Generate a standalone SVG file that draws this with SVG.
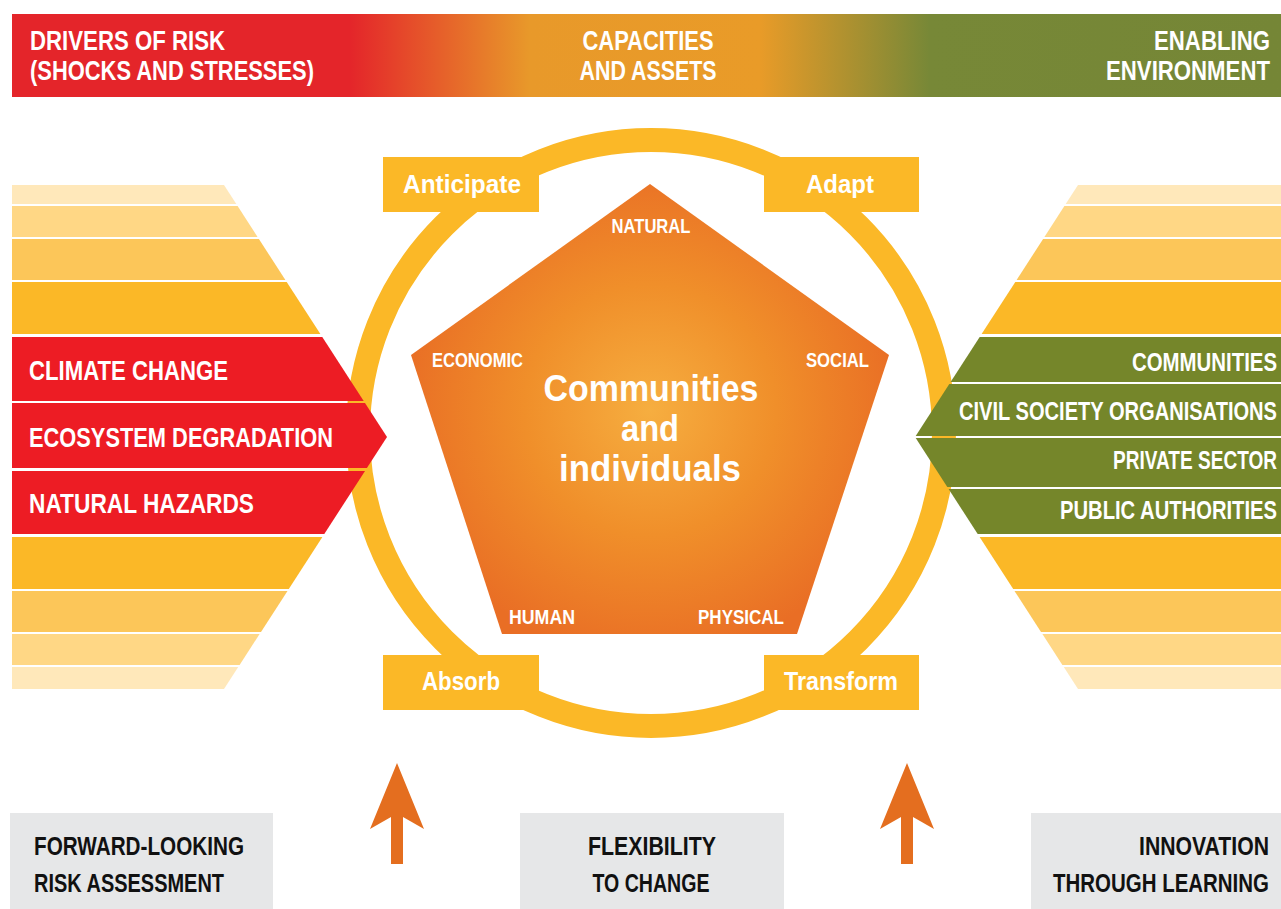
<svg xmlns="http://www.w3.org/2000/svg" width="1281" height="909" viewBox="0 0 1281 909">
<defs>
<linearGradient id="banner" gradientUnits="userSpaceOnUse" x1="12" y1="0" x2="1281" y2="0">
<stop offset="0" stop-color="#E4252A"/>
<stop offset="0.266" stop-color="#E4252A"/>
<stop offset="0.408" stop-color="#E8992A"/>
<stop offset="0.589" stop-color="#E99B28"/>
<stop offset="0.723" stop-color="#778837"/>
<stop offset="1" stop-color="#758636"/>
</linearGradient>
<radialGradient id="pent" gradientUnits="userSpaceOnUse" cx="650" cy="410" r="250">
<stop offset="0" stop-color="#F6AE40"/>
<stop offset="0.5" stop-color="#F08F2A"/>
<stop offset="1" stop-color="#E96E25"/>
</radialGradient>
<style>
.t{font-family:"Liberation Sans",Arial,sans-serif;font-weight:bold;fill:#fff}
.k{font-family:"Liberation Sans",Arial,sans-serif;font-weight:bold;fill:#111}
.s1{fill:#FFE8BA}.s2{fill:#FFD785}.s3{fill:#FCC659}.s4{fill:#FBB827}
.red{fill:#ED1C24}.grn{fill:#75862A}
.box{fill:#FBB827}.grey{fill:#E6E7E8}.arr{fill:#E46E1F}
</style>
</defs>
<rect width="1281" height="909" fill="#fff"/>

<g id="banner">
<rect x="12" y="14" width="1269" height="83" fill="url(#banner)"/>
<text class="t" x="30" y="50" font-size="27" textLength="195" lengthAdjust="spacingAndGlyphs">DRIVERS OF RISK</text>
<text class="t" x="30" y="80" font-size="27" textLength="284" lengthAdjust="spacingAndGlyphs">(SHOCKS AND STRESSES)</text>
<text class="t" x="648" y="50" font-size="27" text-anchor="middle" textLength="131" lengthAdjust="spacingAndGlyphs">CAPACITIES</text>
<text class="t" x="648" y="80" font-size="27" text-anchor="middle" textLength="137" lengthAdjust="spacingAndGlyphs">AND ASSETS</text>
<text class="t" x="1270" y="50" font-size="27" text-anchor="end" textLength="116" lengthAdjust="spacingAndGlyphs">ENABLING</text>
<text class="t" x="1270" y="80" font-size="27" text-anchor="end" textLength="164" lengthAdjust="spacingAndGlyphs">ENVIRONMENT</text>
</g>

<g id="ring">
<circle cx="651" cy="433" r="293" fill="none" stroke="#FBB827" stroke-width="24"/>
</g>

<g id="drivers">
<polygon class="s1" points="12,185 224,185 236.3,204 12,204"/>
<polygon class="s2" points="12,206 237.6,206 257.6,237 12,237"/>
<polygon class="s3" points="12,239 258.9,239 285.4,280 12,280"/>
<polygon class="s4" points="12,282 286.7,282 320.4,334 12,334"/>
<polygon class="red" points="12,337 322.3,337 363.7,401 12,401"/>
<polygon class="red" points="12,403 365,403 387,437 366.9,468 12,468"/>
<polygon class="red" points="12,471 365,471 324.3,534 12,534"/>
<polygon class="s4" points="12,537 322.4,537 288.8,589 12,589"/>
<polygon class="s3" points="12,591 287.5,591 261,632 12,632"/>
<polygon class="s2" points="12,634 259.6,634 239.6,665 12,665"/>
<polygon class="s1" points="12,667 238.2,667 224,689 12,689"/>
<text class="t" x="29" y="380" font-size="28" textLength="199" lengthAdjust="spacingAndGlyphs">CLIMATE CHANGE</text>
<text class="t" x="29" y="447" font-size="28" textLength="304" lengthAdjust="spacingAndGlyphs">ECOSYSTEM DEGRADATION</text>
<text class="t" x="29" y="513" font-size="28" textLength="225" lengthAdjust="spacingAndGlyphs">NATURAL HAZARDS</text>
</g>

<g id="enabling">
<polygon class="s1" points="1281,185 1078,185 1065.7,204 1281,204"/>
<polygon class="s2" points="1281,206 1064.4,206 1044.4,237 1281,237"/>
<polygon class="s3" points="1281,239 1043.1,239 1016.6,280 1281,280"/>
<polygon class="s4" points="1281,282 1015.3,282 981.6,334 1281,334"/>
<polygon class="grn" points="1281,337 979.7,337 950.6,382 1281,382"/>
<polygon class="grn" points="1281,384 949.3,384 915.7,436 1281,436"/>
<polygon class="grn" points="1281,438 915.7,438 947.3,487 1281,487"/>
<polygon class="grn" points="1281,489 948.6,489 977.7,534 1281,534"/>
<polygon class="s4" points="1281,537 979.6,537 1013.2,589 1281,589"/>
<polygon class="s3" points="1281,591 1014.5,591 1041,632 1281,632"/>
<polygon class="s2" points="1281,634 1042.4,634 1062.4,665 1281,665"/>
<polygon class="s1" points="1281,667 1063.8,667 1078,689 1281,689"/>
<text class="t" x="1277" y="371" font-size="26" text-anchor="end" textLength="145" lengthAdjust="spacingAndGlyphs">COMMUNITIES</text>
<text class="t" x="1277" y="420" font-size="26" text-anchor="end" textLength="318" lengthAdjust="spacingAndGlyphs">CIVIL SOCIETY ORGANISATIONS</text>
<text class="t" x="1277" y="469" font-size="26" text-anchor="end" textLength="164" lengthAdjust="spacingAndGlyphs">PRIVATE SECTOR</text>
<text class="t" x="1277" y="519" font-size="26" text-anchor="end" textLength="217" lengthAdjust="spacingAndGlyphs">PUBLIC AUTHORITIES</text>
</g>

<g id="anticipate">
<rect class="box" x="383" y="157" width="156" height="55"/>
<text class="t" x="462" y="193" font-size="25" text-anchor="middle" textLength="118" lengthAdjust="spacingAndGlyphs">Anticipate</text>
</g>
<g id="adapt">
<rect class="box" x="764" y="157" width="155" height="55"/>
<text class="t" x="840" y="193" font-size="25" text-anchor="middle" textLength="68" lengthAdjust="spacingAndGlyphs">Adapt</text>
</g>
<g id="absorb">
<rect class="box" x="383" y="655" width="156" height="55"/>
<text class="t" x="461" y="690" font-size="25" text-anchor="middle" textLength="78" lengthAdjust="spacingAndGlyphs">Absorb</text>
</g>
<g id="transform">
<rect class="box" x="764" y="655" width="155" height="55"/>
<text class="t" x="841" y="690" font-size="25" text-anchor="middle" textLength="114" lengthAdjust="spacingAndGlyphs">Transform</text>
</g>

<g id="pentagon">
<polygon points="650,184 889,355 797,634 502,634 411,355" fill="url(#pent)"/>
<text class="t" x="651" y="233" font-size="21" text-anchor="middle" textLength="79" lengthAdjust="spacingAndGlyphs">NATURAL</text>
<text class="t" x="432" y="367" font-size="20" textLength="91" lengthAdjust="spacingAndGlyphs">ECONOMIC</text>
<text class="t" x="869" y="367" font-size="20" text-anchor="end" textLength="63" lengthAdjust="spacingAndGlyphs">SOCIAL</text>
<text class="t" x="509" y="624" font-size="20" textLength="66" lengthAdjust="spacingAndGlyphs">HUMAN</text>
<text class="t" x="784" y="624" font-size="20" text-anchor="end" textLength="86" lengthAdjust="spacingAndGlyphs">PHYSICAL</text>
<text class="t" x="651" y="401" font-size="37" text-anchor="middle" textLength="215" lengthAdjust="spacingAndGlyphs">Communities</text>
<text class="t" x="650" y="441" font-size="37" text-anchor="middle" textLength="58" lengthAdjust="spacingAndGlyphs">and</text>
<text class="t" x="650" y="481" font-size="37" text-anchor="middle" textLength="182" lengthAdjust="spacingAndGlyphs">individuals</text>
</g>

<g id="connectors">
<polygon class="arr" points="397,763 424,829 403,817 403,864 391,864 391,817 370,829"/>
<polygon class="arr" points="907,763 934,829 913,817 913,864 901,864 901,817 880,829"/>
</g>

<g id="forward">
<rect class="grey" x="10" y="813" width="263" height="96"/>
<text class="k" x="34" y="855" font-size="25" textLength="210" lengthAdjust="spacingAndGlyphs">FORWARD-LOOKING</text>
<text class="k" x="34" y="892" font-size="25" textLength="190" lengthAdjust="spacingAndGlyphs">RISK ASSESSMENT</text>
</g>
<g id="flexibility">
<rect class="grey" x="520" y="813" width="264" height="96"/>
<text class="k" x="652" y="855" font-size="25" text-anchor="middle" textLength="128" lengthAdjust="spacingAndGlyphs">FLEXIBILITY</text>
<text class="k" x="651" y="892" font-size="25" text-anchor="middle" textLength="117" lengthAdjust="spacingAndGlyphs">TO CHANGE</text>
</g>
<g id="innovation">
<rect class="grey" x="1031" y="813" width="250" height="96"/>
<text class="k" x="1269" y="855" font-size="25" text-anchor="end" textLength="130" lengthAdjust="spacingAndGlyphs">INNOVATION</text>
<text class="k" x="1269" y="892" font-size="25" text-anchor="end" textLength="216" lengthAdjust="spacingAndGlyphs">THROUGH LEARNING</text>
</g>
</svg>
